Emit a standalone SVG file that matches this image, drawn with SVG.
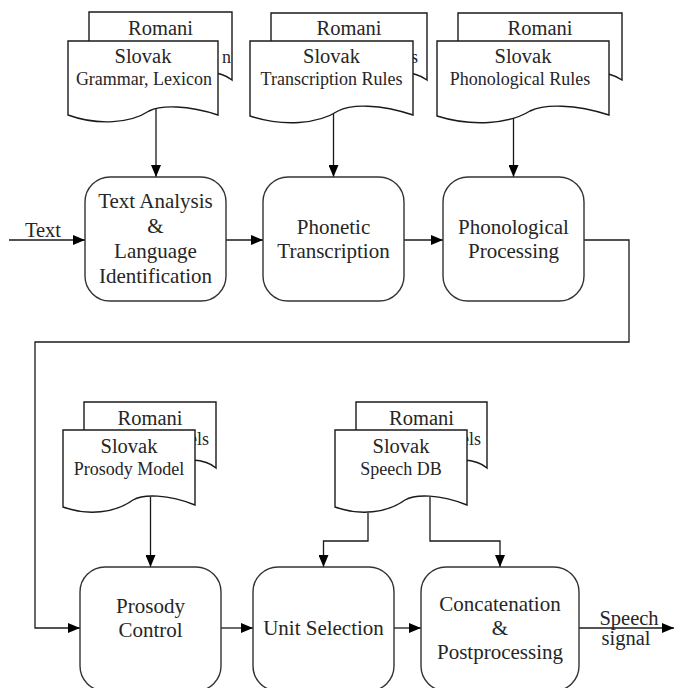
<svg xmlns="http://www.w3.org/2000/svg" width="675" height="688" viewBox="0 0 675 688" font-family="'Liberation Serif', 'Times New Roman', serif">
  <style>
    .doc { fill: #ffffff; stroke: #1a1a1a; stroke-width: 1.4; }
    .box { fill: #ffffff; stroke: #333333; stroke-width: 1.4; }
    .wire { fill: none; stroke: #1a1a1a; stroke-width: 1.3; }
    .lbl { font-family: 'Liberation Serif', 'Times New Roman', serif; fill: #262626; text-anchor: middle; }
    .t20 { font-size: 20.5px; }
    .t18 { font-size: 18px; }
    .t21 { font-size: 21px; }
    .frag { font-size: 18px; text-anchor: end; }
  </style>
  <defs>
    <marker id="arrow" viewBox="0 0 12 10" refX="12" refY="5" markerWidth="12" markerHeight="10" markerUnits="userSpaceOnUse" orient="auto">
      <path d="M0,0 L12,5 L0,10 Z" fill="#000000"/>
    </marker>
  </defs>

  <!-- connectors -->
  <g id="connectors" class="wire" marker-end="url(#arrow)">
    <path d="M9,240 H85"/>
    <path d="M156,108 V177"/>
    <path d="M333.5,113 V177"/>
    <path d="M513.5,116 V177"/>
    <path d="M226,240 H263"/>
    <path d="M404,240 H443"/>
    <path d="M584,240 H629 V342 H35 V628 H80"/>
    <path d="M150.5,497 V567"/>
    <path d="M368,513 V541 H323.5 V567"/>
    <path d="M430,497 V541 H500 V567"/>
    <path d="M221,628 H253"/>
    <path d="M394,628 H421"/>
    <path d="M579,628 H674"/>
  </g>
  <g id="io-labels">
    <text class="lbl t20" x="43" y="237">Text</text>
    <text class="lbl t20" x="629" y="625">Speech</text>
    <text class="lbl t20" x="626" y="645">signal</text>
  </g>

  <!-- lexicon documents -->
  <g id="doc-grammar">
    <path class="doc" d="M89,12 H232 V80 C220,70 195,70 185,76 C165,88 120,91 89,80 Z"/>
    <text class="lbl frag" x="231" y="63">n</text>
    <text class="lbl t20" x="160.5" y="35">Romani</text>
    <path class="doc" d="M68,41 H218 V115 C188,105 161,105 149,111 C131,123 98,126 68,115 Z"/>
    <text class="lbl t20" x="143" y="63">Slovak</text>
    <text class="lbl t18" x="144" y="85">Grammar, Lexicon</text>
  </g>
  <g id="doc-transcription">
    <path class="doc" d="M271,13 H427 V80 C414,70 387,70 375,76 C354,88 305,91 271,80 Z"/>
    <text class="lbl frag" x="418" y="63">s</text>
    <text class="lbl t20" x="349" y="35">Romani</text>
    <path class="doc" d="M250,41 H413 V115 C380,104 351,104 338,111 C318,124 283,127 250,116 Z"/>
    <text class="lbl t20" x="331.5" y="63">Slovak</text>
    <text class="lbl t18" x="331.5" y="85">Transcription Rules</text>
  </g>
  <g id="doc-phonological">
    <path class="doc" d="M458,13 H622 V80 C608,70 580,70 567,76 C545,88 494,91 458,80 Z"/>
    <text class="lbl t20" x="540" y="35">Romani</text>
    <path class="doc" d="M437,41 H609 V115 C575,104 544,104 530,111 C509,124 472,127 437,116 Z"/>
    <text class="lbl t20" x="523" y="63">Slovak</text>
    <text class="lbl t18" x="520" y="85">Phonological Rules</text>
  </g>

  <!-- processing stages, first row -->
  <g id="text-analysis">
    <rect class="box" x="85" y="177" width="141" height="124" rx="25"/>
    <text class="lbl t21" x="155.5" y="208">Text Analysis</text>
    <text class="lbl t21" x="155.5" y="233">&amp;</text>
    <text class="lbl t21" x="155.5" y="258">Language</text>
    <text class="lbl t21" x="155.5" y="283">Identification</text>
  </g>
  <g id="phonetic-transcription">
    <rect class="box" x="263" y="177" width="141" height="124" rx="25"/>
    <text class="lbl t21" x="333.5" y="234">Phonetic</text>
    <text class="lbl t21" x="333.5" y="258">Transcription</text>
  </g>
  <g id="phonological-processing">
    <rect class="box" x="443" y="177" width="141" height="124" rx="25"/>
    <text class="lbl t21" x="513.5" y="234">Phonological</text>
    <text class="lbl t21" x="513.5" y="258">Processing</text>
  </g>

  <!-- model / database documents -->
  <g id="doc-prosody">
    <path class="doc" d="M84,402 H216 V468 C205,458 180,458 170,464 C151,476 112,479 84,468 Z"/>
    <text class="lbl frag" x="209" y="445">els</text>
    <text class="lbl t20" x="150" y="425">Romani</text>
    <path class="doc" d="M63,430 H195 V505 C168,494 143,494 133,500 C115,513 88,516 63,507 Z"/>
    <text class="lbl t20" x="129" y="453">Slovak</text>
    <text class="lbl t18" x="129" y="475">Prosody Model</text>
  </g>
  <g id="doc-speechdb">
    <path class="doc" d="M356,402 H487 V468 C476,458 451,458 441,464 C422,476 384,479 356,468 Z"/>
    <text class="lbl frag" x="481" y="445">els</text>
    <text class="lbl t20" x="421.5" y="425">Romani</text>
    <path class="doc" d="M335,430 H467 V505 C440,494 415,494 405,500 C387,513 360,516 335,507 Z"/>
    <text class="lbl t20" x="401" y="453">Slovak</text>
    <text class="lbl t18" x="401" y="475">Speech DB</text>
  </g>

  <!-- processing stages, second row -->
  <g id="prosody-control">
    <rect class="box" x="80" y="567" width="141" height="124" rx="25"/>
    <text class="lbl t21" x="150.5" y="613">Prosody</text>
    <text class="lbl t21" x="150.5" y="637">Control</text>
  </g>
  <g id="unit-selection">
    <rect class="box" x="253" y="567" width="141" height="124" rx="25"/>
    <text class="lbl t21" x="323.5" y="635">Unit Selection</text>
  </g>
  <g id="concatenation">
    <rect class="box" x="421" y="567" width="158" height="124" rx="25"/>
    <text class="lbl t21" x="500" y="611">Concatenation</text>
    <text class="lbl t21" x="500" y="635">&amp;</text>
    <text class="lbl t21" x="500" y="659">Postprocessing</text>
  </g>
</svg>
